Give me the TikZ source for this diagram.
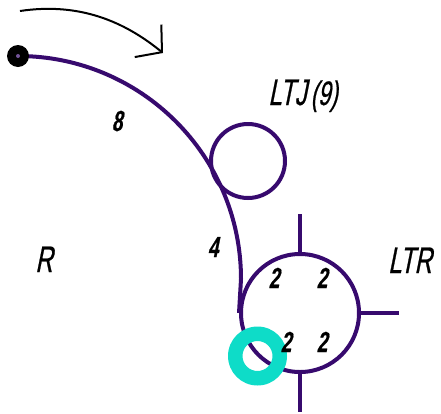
\documentclass[tikz,border=0pt]{standalone}
\usepackage{fontspec}
\newfontfamily\isofont[FakeStretch=0.65,FakeSlant=0.2,FakeBold=0.6]{Liberation Sans}
\usetikzlibrary{arrows.meta}
\definecolor{pipeviolet}{RGB}{55,10,110}
\definecolor{ringcyan}{RGB}{14,220,200}
\begin{document}
\begin{tikzpicture}[x=1pt,y=-1pt,
  pipeline/.style={draw=pipeviolet,line width=4pt},
  loopnode/.style={circle,pipeline,inner sep=0pt},
  capstext/.style={font=\isofont\fontsize{37}{37}\selectfont,inner sep=0pt,anchor=base},
  numtext/.style={font=\isofont\bfseries\fontsize{29}{29}\selectfont,inner sep=0pt,anchor=base}]
\useasboundingbox (0,0) rectangle (441,413);
% rotation arrow
\coordinate (turnstart) at (20,11);
\coordinate (turnend) at (163,53);
\draw[line width=2pt,-{Straight Barb[length=18pt,width=42pt]}]
  (turnstart) .. controls (80,2) and (125,22) .. (turnend);
% circles
\node[loopnode,minimum size=74pt] (ltj) at (248,161) {};
\node[loopnode,minimum size=118pt] (ltr) at (300,313) {};
\coordinate (start) at (18,56);
\draw[pipeline] (start) arc[start angle=90,end angle=0,radius=223pt] -- (ltr.west);
\draw[pipeline] (ltr.north) -- ++(0,-38);
\draw[pipeline] (ltr.east) -- ++(38,0);
\draw[pipeline] (ltr.south) -- ++(0,38);
\node[circle,fill=black,minimum size=22pt,inner sep=0pt] (dot) at (start) {};
\node[circle,fill=pipeviolet!70!white,minimum size=4pt,inner sep=0pt] (dotcore) at (dot.center) {};
\coordinate (ring) at (257.5,356);
\fill[ringcyan,even odd rule] (ring) circle[radius=29.5pt] circle[radius=15pt];
% labels
\node[capstext] (ltjlabel) at (303,105) {LTJ\kern4pt{\fontsize{34}{34}\selectfont(9)}};
\node[capstext] (ltrlabel) at (410,273) {LTR};
\node[capstext] (rlabel) at (44,272) {R};
\node[numtext] (len8) at (117,131) {8};
\node[numtext] (len4) at (213,257) {4};
\node[numtext] (nw) at (274,288) {2};
\node[numtext] (ne) at (322,288) {2};
\node[numtext] (sw) at (286,352) {2};
\node[numtext] (se) at (322,352) {2};
\end{tikzpicture}
\end{document}
